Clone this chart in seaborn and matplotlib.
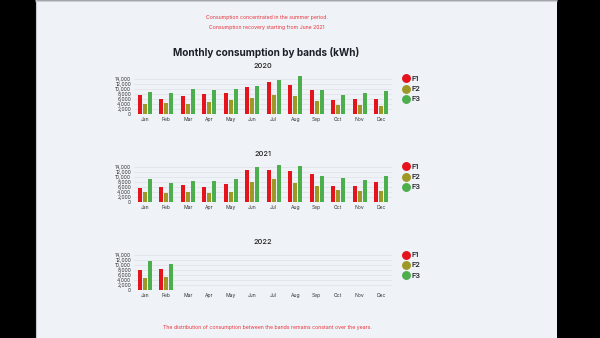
import matplotlib
matplotlib.use("Agg")
import matplotlib.pyplot as plt
from matplotlib.patches import Rectangle
from matplotlib.lines import Line2D
import seaborn as sns
import pandas as pd
import numpy as np

months = ["Jan", "Feb", "Mar", "Apr", "May", "Jun", "Jul", "Aug", "Sep", "Oct", "Nov", "Dec"]
bands = ["F1", "F2", "F3"]
years = ["2020", "2021", "2022"]

f1_2020 = [7400, 5800, 7000, 7900, 8300, 10700, 12700, 11500, 9500, 5700, 6100, 6100]
f2_2020 = [4000, 4200, 4000, 4600, 5500, 6500, 7700, 7100, 5300, 3700, 3400, 3200]
f3_2020 = [8600, 8300, 9800, 9600, 10000, 11100, 13300, 15200, 9500, 7400, 8200, 9100]

f1_2021 = [5600, 5900, 6800, 6000, 7100, 12700, 12700, 12200, 11100, 6400, 6400, 7900]
f2_2021 = [3800, 3400, 3900, 3700, 3900, 7900, 9000, 7700, 6500, 4600, 4200, 4200]
f3_2021 = [9000, 7500, 8200, 8500, 9000, 13700, 14500, 14100, 10200, 9400, 8900, 10200]

f1_2022 = [8100, 8600]
f2_2022 = [4700, 5400]
f3_2022 = [11600, 10300]

yticks = [0, 2000, 4000, 6000, 8000, 10000, 12000, 14000]
ytick_labels = ["0", "2,000", "4,000", "6,000", "8,000", "10,000", "12,000", "14,000"]

colors = {"F1": "#e5131c", "F2": "#9e9826", "F3": "#4cae4c"}

title = "Monthly consumption by bands (kWh)"
note_top = ["Consumption concentrated in the summer period.",
            "Consumption recovery starting from June 2021"]
note_bottom = "The distribution of consumption between the bands remains constant over the years."

data = {
    "2020": [f1_2020, f2_2020, f3_2020],
    "2021": [f1_2021, f2_2021, f3_2021],
    "2022": [f1_2022, f2_2022, f3_2022],
}

sns.set_theme(style="white")
plt.rcParams["font.family"] = ["Inter", "DejaVu Sans"]

W, H = 600, 338
fig = plt.figure(figsize=(6, 3.38), dpi=100)
fig.patch.set_facecolor("black")

panel_l, panel_r = 36, 557
fig.add_artist(Rectangle((panel_l / W, 0), (panel_r - panel_l) / W, 1 - 1 / H,
                         transform=fig.transFigure, facecolor="#eff3f8", edgecolor="none", zorder=0))
fig.add_artist(Line2D([panel_l / W, panel_r / W], [1 - 1 / H, 1 - 1 / H], transform=fig.transFigure,
                      color="#c4c8cd", lw=1.2, zorder=1))
fig.add_artist(Line2D([panel_l / W, panel_l / W], [0, 1], transform=fig.transFigure,
                      color="#c4c8cd", lw=0.8, zorder=1))

ax_left, ax_right = 134, 392
zero_px = [114, 202, 290.3]
px_per_1000 = 2.52
ymax = 16000

for i, yr in enumerate(years):
    vals = data[yr]
    rows = []
    for b, arr in zip(bands, vals):
        for m, v in zip(months, arr):
            rows.append({"month": m, "band": b, "kWh": v})
    df = pd.DataFrame(rows)
    bottom = zero_px[i]
    top = bottom - px_per_1000 * ymax / 1000
    ax = fig.add_axes([ax_left / W, (H - bottom) / H, (ax_right - ax_left) / W, (bottom - top) / H])
    ax.set_facecolor("none")
    sns.barplot(data=df, x="month", y="kWh", hue="band", order=months, hue_order=bands,
                palette=colors, width=0.7, gap=0.25, ax=ax, legend=False, saturation=1,
                edgecolor="none", linewidth=0)
    ax.set_ylim(0, ymax)
    ax.set_xlim(-0.5, 11.5)
    ax.set_yticks(yticks)
    ax.set_yticklabels(ytick_labels)
    ax.grid(axis="y", color="#dde1e6", lw=0.5)
    ax.set_axisbelow(True)
    for s in ax.spines.values():
        s.set_visible(False)
    ax.tick_params(axis="both", length=0, labelsize=3.6, colors="#333333", pad=2)
    ax.set_xlabel("")
    ax.set_ylabel("")
    ax.set_title(yr, fontsize=5.3, color="#222222", pad=4, fontweight="medium")
    handles = [Line2D([], [], marker="o", linestyle="", markersize=5.4, color=colors[b], label=b)
               for b in bands]
    ax.legend(handles=handles, loc="upper left", bbox_to_anchor=((398 - ax_left) / (ax_right - ax_left), 1.04),
              frameon=False, handletextpad=0.1, labelspacing=0.55, borderpad=0,
              handlelength=1.2, labelcolor="#222222", prop={"weight": "semibold", "size": 5.3})

fig.text(267 / W, 1 - 17 / H, note_top[0], ha="center", va="center", fontsize=3.75, color="#e8343a")
fig.text(267 / W, 1 - 27 / H, note_top[1], ha="center", va="center", fontsize=3.75, color="#e8343a")
fig.text(266 / W, 1 - 52 / H, title, ha="center", va="center", fontsize=7.2, fontweight="bold", color="#1c1f26")
fig.text(267 / W, 1 - 327 / H, note_bottom, ha="center", va="center", fontsize=3.75, color="#e8343a")

fig.savefig("out.png", dpi=100, facecolor=fig.get_facecolor())
